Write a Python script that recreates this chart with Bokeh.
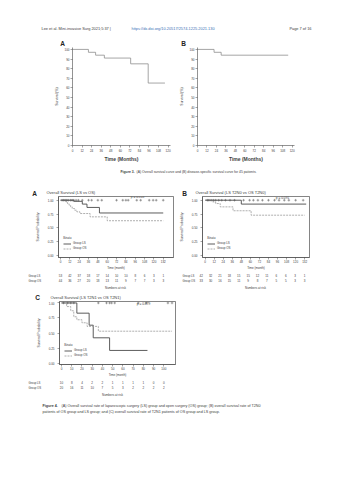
from bokeh.plotting import figure
from bokeh.models import Range1d, Label, FixedTicker, PrintfTickFormatter, Legend, LegendItem
from bokeh.layouts import column, row
from bokeh.embed import file_html
from bokeh.resources import INLINE

FONT = "Liberation Sans"
TXT = "#3c3c3c"
AX = "#4a4a4a"
LINK = "#3a6fb5"

# ---------------- page texts ----------------
header_left = "Lee et al. Mini-invasive Surg 2021;5:37  |"
header_link = "https://dx.doi.org/10.20517/2574-1225.2021.130"
header_page = "Page 7 of 16"
fig3_cap_bold = "Figure 3."
fig3_cap = "(A) Overall survival curve and (B) disease-specific survival curve for 45 patients."
fig4_cap_bold = "Figure 4."
fig4_cap1 = "(A) Overall survival rate of laparoscopic surgery (LS) group and open surgery (OS) group; (B) overall survival rate of T2N0"
fig4_cap2 = "patients of OS group and LS group; and (C) overall survival rate of T2N1 patients of OS group and LS group."

# ---------------- Figure 3 data ----------------
f3_xticks = [0, 12, 24, 36, 48, 60, 72, 84, 96, 108, 120]
f3_yticks = [0, 10, 20, 30, 40, 50, 60, 70, 80, 90, 100]
f3a_time = [0, 20, 29, 40, 73, 95, 116]
f3a_surv = [100, 97, 94, 91, 85, 65, 65]
f3b_time = [0, 21, 30, 115]
f3b_surv = [100, 97, 94, 94]

# ---------------- Figure 4 data ----------------
km_yticks = [0, 0.25, 0.5, 0.75, 1.0]
group_names = ["Group LS", "Group OS"]

a_xticks = [0, 12, 24, 36, 48, 60, 72, 84, 96, 108, 120, 132]
a_ls_t = [0, 17, 28, 34, 50, 132]
a_ls_s = [1.0, 0.98, 0.93, 0.87, 0.77, 0.77]
a_os_t = [0, 7, 9, 11, 13, 15, 18, 21, 25, 38, 60, 132]
a_os_s = [1.0, 0.97, 0.94, 0.91, 0.88, 0.85, 0.82, 0.79, 0.76, 0.70, 0.63, 0.63]
a_cens_t = [2, 4, 6, 8, 10, 13, 15, 17, 20, 23, 28, 36, 40, 48, 53, 72, 80, 84, 87, 98, 103, 114, 119, 123, 132]
a_risk_ls = [53, 42, 37, 18, 17, 14, 10, 10, 8, 6, 3, 1]
a_risk_os = [44, 36, 27, 20, 18, 13, 11, 9, 7, 7, 3, 3]
a_title = "Overall Survival (LS vs OS)"
a_p = "p = 0.518"

b_xticks = [0, 12, 24, 36, 48, 60, 72, 84, 96, 108, 120, 132]
b_ls_t = [0, 48, 134]
b_ls_s = [1.0, 0.93, 0.93]
b_os_t = [0, 10, 14, 20, 37, 61, 132]
b_os_s = [1.0, 0.97, 0.94, 0.88, 0.81, 0.73, 0.73]
b_cens_t = [3, 5, 8, 11, 14, 18, 22, 27, 33, 39, 51, 59, 64, 70, 76, 84, 92, 98, 105, 111, 120, 130]
b_risk_ls = [42, 32, 21, 18, 15, 15, 12, 11, 6, 6, 3, 1]
b_risk_os = [33, 30, 16, 15, 11, 9, 8, 7, 5, 5, 3, 3]
b_title = "Overall Survival (LS T2N0 vs OS T2N0)"
b_p = "p = 0.091"

c_xticks = [0, 10, 20, 30, 40, 50, 60, 70, 80, 90, 100]
c_ls_t = [0, 15, 27, 31, 47, 84]
c_ls_s = [1.0, 0.83, 0.63, 0.42, 0.21, 0.21]
c_os_t = [0, 5, 9, 12, 15, 20, 25, 36, 108]
c_os_s = [1.0, 0.94, 0.87, 0.77, 0.72, 0.67, 0.61, 0.53, 0.53]
c_cens_t = [2, 6, 9, 12, 36, 44, 47, 49, 52, 75, 83, 104, 108]
c_risk_ls = [10, 8, 4, 2, 2, 1, 1, 1, 1, 0, 0]
c_risk_os = [20, 16, 11, 10, 7, 5, 3, 2, 2, 2, 2]
c_title = "Overall Survival (LS T2N1 vs OS T2N1)"
c_p = "p = 0.879"


def mk_label(x, y, text, size, bold=False, align="left", color=TXT, xu="screen"):
    return Label(x=x, y=y, x_units=xu, y_units="screen", text=text,
                 text_font=FONT, text_font_size=f"{size}px",
                 text_font_style="bold" if bold else "normal",
                 text_align=align, text_baseline="middle", text_color=color)


class Strip:
    """A text-only figure whose frame fills its canvas; positions given in page pixels."""

    def __init__(self, w, h, left, top, x_range=None):
        self.left, self.bottom = left, top + h
        self.p = figure(width=w, height=h, x_range=x_range or Range1d(0, w), y_range=Range1d(0, h),
                        min_border=0, toolbar_location=None, output_backend="svg",
                        x_axis_location=None, y_axis_location=None, outline_line_color=None)
        self.p.grid.visible = False
        self.p.title.visible = False

    def text(self, px, py, text, size, **kw):
        self.p.add_layout(mk_label(px - self.left, self.bottom - py, text, size, **kw))

    def data_text(self, x, py, text, size, **kw):
        self.p.add_layout(mk_label(x, self.bottom - py, text, size, xu="data", **kw))


def aligned_range(xr, fl, fr, sl, w):
    u = (xr[1] - xr[0]) / (fr - fl)
    return Range1d(xr[0] - (fl - sl) * u, xr[1] + (sl + w - fr) * u)


def style_axis(ax, tick_size, lab_size, lab_bold, standoff, lab_standoff):
    ax.major_label_text_font = FONT
    ax.major_label_text_font_size = f"{tick_size}px"
    ax.major_label_text_color = TXT
    ax.axis_label_text_font = FONT
    ax.axis_label_text_font_size = f"{lab_size}px"
    ax.axis_label_text_font_style = "bold" if lab_bold else "normal"
    ax.axis_label_text_color = TXT
    ax.axis_line_color = AX
    ax.axis_line_width = 0.6
    ax.major_tick_line_color = AX
    ax.major_tick_line_width = 0.5
    ax.major_tick_in = 0
    ax.major_tick_out = 2
    ax.minor_tick_line_color = None
    ax.major_label_standoff = standoff
    ax.axis_label_standoff = lab_standoff


# ---------------- header (0..46) ----------------
hdr = Strip(353, 46, 0, 0)
hdr.text(41, 28, header_left, 3.9)
hdr.text(131, 28, header_link, 3.9, color=LINK)
hdr.text(311, 28, header_page, 3.9, align="right")
hdr.text(62, 43, "A", 6.5, bold=True, align="center", color="#222222")
hdr.text(183, 43, "B", 6.5, bold=True, align="center", color="#222222")


# ---------------- Figure 3 (46..164) ----------------
def f3_panel(w, bl, br, t, s):
    p = figure(width=w, height=118, x_range=Range1d(0, 123), y_range=Range1d(0, 102),
               min_border_left=bl, min_border_right=br, min_border_top=1, min_border_bottom=14,
               toolbar_location=None, output_backend="svg", outline_line_color=None)
    p.grid.visible = False
    p.title.visible = False
    p.xaxis.ticker = FixedTicker(ticks=f3_xticks)
    p.yaxis.ticker = FixedTicker(ticks=f3_yticks)
    p.xaxis.axis_label = "Time (Months)"
    p.yaxis.axis_label = "Survival (%)"
    style_axis(p.xaxis[0], 3, 5, True, 1, 1)
    style_axis(p.yaxis[0], 3, 3.4, False, 1, 2)
    p.step(t, s, mode="after", line_color="#8e8e8e", line_width=0.8)
    return p


f3a = f3_panel(176, 72, 6, f3a_time, f3a_surv)
f3b = f3_panel(177, 21, 59, f3b_time, f3b_surv)

# ---------------- caption 3 (164..180) ----------------
cap3 = Strip(353, 16, 0, 164)
cap3.text(120, 171, fig3_cap_bold, 3.4, bold=True)
cap3.text(136, 171, fig3_cap, 3.4)


# ---------------- Figure 4 panels ----------------
def km_panel(w, h, bl, br, bb, xr, yr, xticks, ls_t, ls_s, os_t, os_s, cens_t, pval, p_xy, fl, fb):
    p = figure(width=w, height=h, x_range=Range1d(*xr), y_range=Range1d(*yr),
               min_border_left=bl, min_border_right=br, min_border_top=0, min_border_bottom=bb,
               toolbar_location=None, output_backend="svg",
               outline_line_color="#333333", outline_line_width=0.6)
    p.grid.visible = False
    p.title.visible = False
    p.xaxis.ticker = FixedTicker(ticks=xticks)
    p.yaxis.ticker = FixedTicker(ticks=km_yticks)
    p.yaxis.formatter = PrintfTickFormatter(format="%.2f")
    p.xaxis.axis_label = "Time (month)"
    p.yaxis.axis_label = "Survival Probability"
    style_axis(p.xaxis[0], 3, 3, False, 0, 0)
    style_axis(p.yaxis[0], 3, 3.4, False, 3, 5)
    r_ls = p.step(ls_t, ls_s, mode="after", line_color="#4a4a4a", line_width=0.9)
    r_os = p.step(os_t, os_s, mode="after", line_color="#9a9a9a", line_width=0.8, line_dash="2 1")
    p.scatter(cens_t, [1.0] * len(cens_t), marker="cross", size=2.6, line_color="#555555", line_width=0.5)
    leg = Legend(items=[LegendItem(label=group_names[0], renderers=[r_ls]),
                        LegendItem(label=group_names[1], renderers=[r_os])],
                 title="Strata", location=(5, 7), border_line_color=None,
                 background_fill_alpha=0, label_text_font=FONT, label_text_font_size="3px",
                 title_text_font=FONT, title_text_font_size="3.2px", glyph_width=8, glyph_height=3,
                 label_height=3, label_standoff=2, spacing=1, padding=1, margin=0, title_standoff=1,
                 label_text_color=TXT, title_text_color=TXT)
    p.add_layout(leg)
    p.add_layout(mk_label(p_xy[0] - fl, fb - p_xy[1], pval, 3.2, align="center"))
    return p


def risk_strip(w, h, left, top, xr, fl, fr, xticks, risk_ls, risk_os, rowlab_x, row_y, nar_xy):
    s = Strip(w, h, left, top, x_range=aligned_range(xr, fl, fr, left, w))
    for name, risk, ry in zip(group_names, [risk_ls, risk_os], row_y):
        s.text(rowlab_x, ry, name, 2.8)
        for tx, n in zip(xticks, risk):
            s.data_text(tx, ry, str(n), 3, align="center")
    s.text(nar_xy[0], nar_xy[1], "Numbers at risk", 3, align="center")
    return s


a_xr = (-2.6, 145.2)
b_xr = (-3.45, 138.4)
c_xr = (-1.95, 111.4)
km_yr = (-0.033, 1.067)

# titles (180..196)
t4a = Strip(176, 16, 0, 180)
t4a.text(34, 192.5, "A", 6.5, bold=True, align="center", color="#222222")
t4a.text(46, 192, a_title, 4)
t4b = Strip(177, 16, 176, 180)
t4b.text(184, 192.5, "B", 6.5, bold=True, align="center", color="#222222")
t4b.text(195, 192, b_title, 4)

# panels (196..272)
f4a = km_panel(176, 76, 58, 3, 10, a_xr, km_yr, a_xticks, a_ls_t, a_ls_s, a_os_t, a_os_s,
               a_cens_t, a_p, (137, 201), 58, 262)
f4b = km_panel(177, 76, 22, 44, 10, b_xr, km_yr, b_xticks, b_ls_t, b_ls_s, b_os_t, b_os_s,
               b_cens_t, b_p, (278, 202), 198, 262)

# number at risk (272..290)
r4a = risk_strip(176, 18, 0, 272, a_xr, 58, 173, a_xticks, a_risk_ls, a_risk_os, 28, (275, 280), (115, 287))
r4b = risk_strip(177, 18, 176, 272, b_xr, 198, 309, b_xticks, b_risk_ls, b_risk_os, 182, (275, 280), (255, 287))

# panel C title (290..301)
t4c = Strip(353, 11, 0, 290)
t4c.text(37, 296, "C", 6.5, bold=True, align="center", color="#222222")
t4c.text(50, 296, c_title, 4)

# panel C (301..379)
f4c = km_panel(353, 78, 59, 178, 12, c_xr, (-0.024, 1.024), c_xticks, c_ls_t, c_ls_s, c_os_t, c_os_s,
               c_cens_t, c_p, (143, 306), 59, 367)

# number at risk C (379..398)
r4c = risk_strip(353, 19, 0, 379, c_xr, 59, 175, c_xticks, c_risk_ls, c_risk_os, 28, (382, 387), (112, 394))

# caption 4 (398..480)
cap4 = Strip(353, 82, 0, 398)
cap4.text(42, 405, fig4_cap_bold, 3.7, bold=True)
cap4.text(61, 405, fig4_cap1, 3.7)
cap4.text(42, 411, fig4_cap2, 3.7)

page = column(
    row(hdr.p),
    row(f3a, f3b),
    row(cap3.p),
    row(t4a.p, t4b.p),
    row(f4a, f4b),
    row(r4a.p, r4b.p),
    row(t4c.p),
    row(f4c),
    row(r4c.p),
    row(cap4.p),
)
open("out.html", "w").write(file_html(page, INLINE))
